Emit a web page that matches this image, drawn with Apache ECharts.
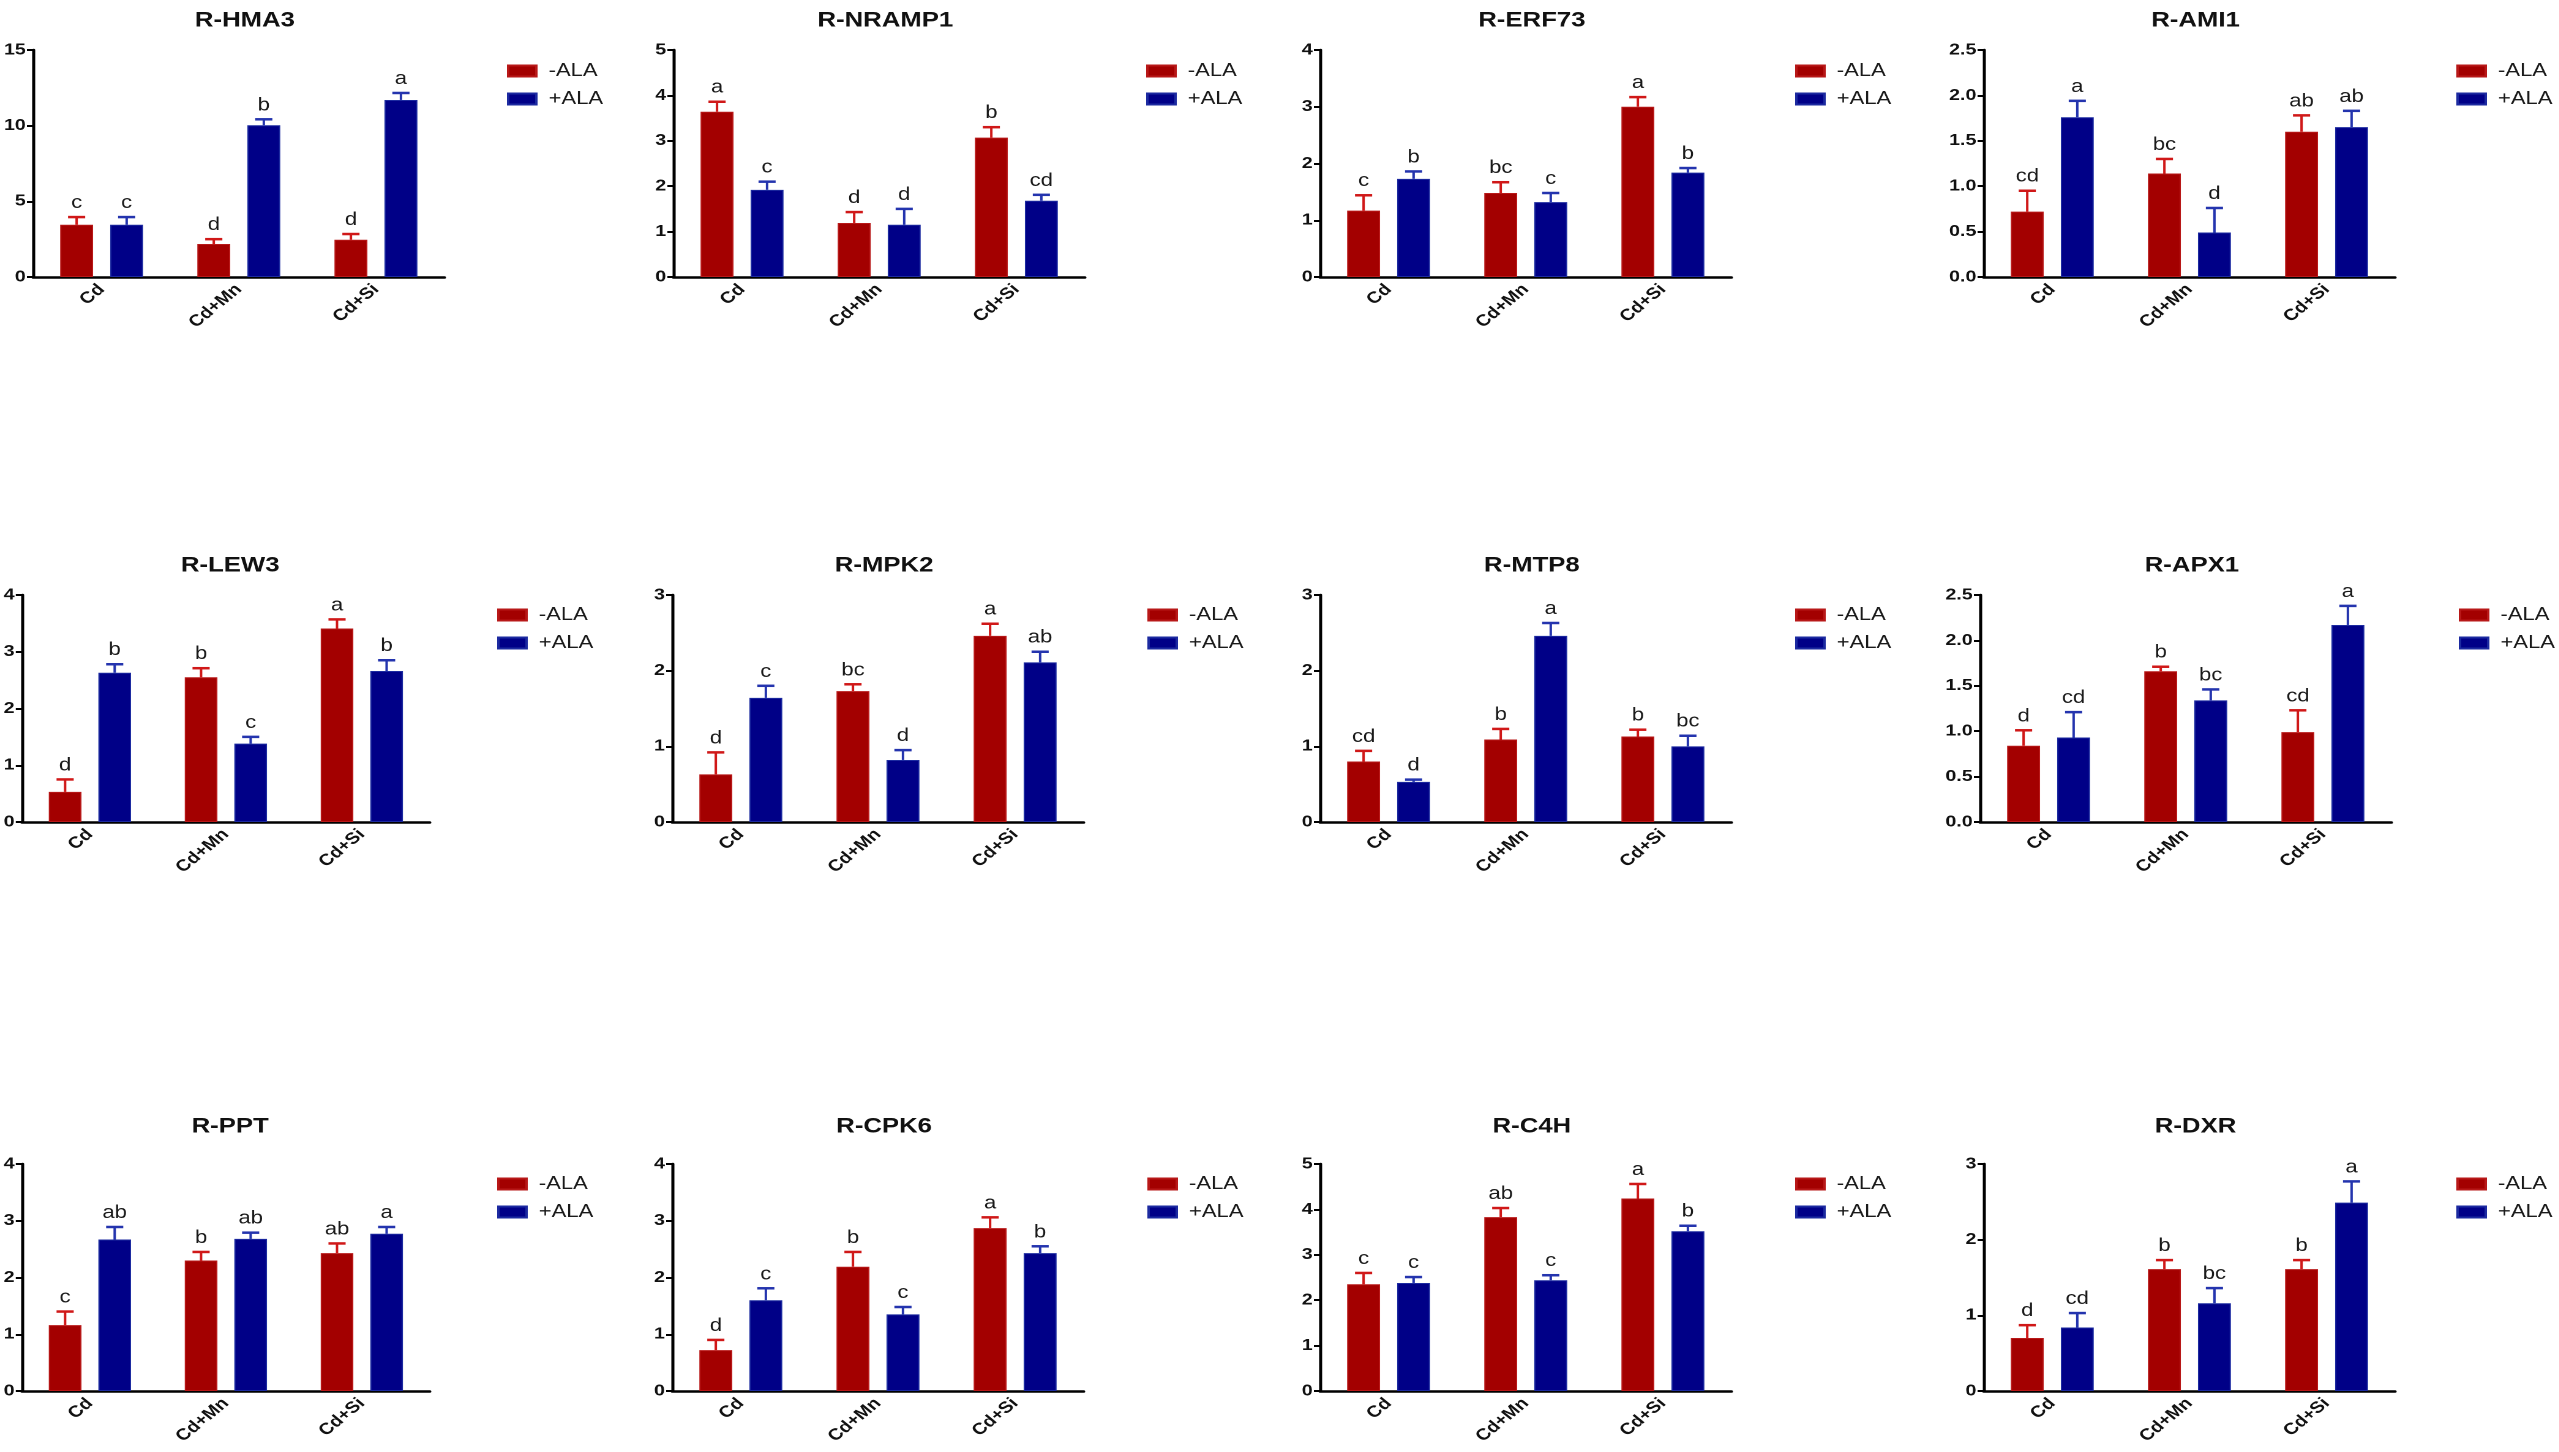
<!DOCTYPE html>
<html>
<head>
<meta charset="utf-8">
<script src="https://cdn.jsdelivr.net/npm/echarts@6/dist/echarts.min.js"></script>
<style>
  html, body { margin: 0; padding: 0; background: #fff; overflow: hidden; }
  /* the source figure is stretched horizontally, so the chart is drawn narrower and widened */
  #myCharts { width: 2090px; height: 1452px; transform: scaleX(1.2245); transform-origin: 0 0; }
</style>
</head>
<body>
<div id="myCharts"></div>
<script>
const categories = ['Cd', 'Cd+Mn', 'Cd+Si'];
const genes = ['R-HMA3', 'R-NRAMP1', 'R-ERF73', 'R-AMI1',
               'R-LEW3', 'R-MPK2', 'R-MTP8', 'R-APX1',
               'R-PPT', 'R-CPK6', 'R-C4H', 'R-DXR'];

// -ALA means and error (upper bar length)
const minusALA = [
    [3.45, 2.18, 2.46],
    [3.64, 1.19, 3.07],
    [1.17, 1.48, 3.00],
    [0.72, 1.14, 1.60],
    [0.53, 2.55, 3.41],
    [0.63, 1.73, 2.46],
    [0.80, 1.09, 1.13],
    [0.84, 1.66, 0.99],
    [1.16, 2.30, 2.43],
    [0.72, 2.19, 2.87],
    [2.35, 3.83, 4.24],
    [0.70, 1.61, 1.61]
];
const minusALAErr = [
    [0.51, 0.32, 0.38],
    [0.22, 0.24, 0.23],
    [0.27, 0.19, 0.17],
    [0.23, 0.16, 0.18],
    [0.22, 0.16, 0.16],
    [0.29, 0.09, 0.16],
    [0.14, 0.14, 0.09],
    [0.17, 0.05, 0.24],
    [0.24, 0.15, 0.17],
    [0.18, 0.26, 0.19],
    [0.25, 0.20, 0.32],
    [0.17, 0.12, 0.12]
];
// +ALA means and error
const plusALA = [
    [3.45, 10.03, 11.70],
    [1.92, 1.15, 1.68],
    [1.73, 1.32, 1.84],
    [1.76, 0.49, 1.65],
    [2.63, 1.38, 2.66],
    [1.64, 0.82, 2.11],
    [0.53, 2.46, 1.00],
    [0.93, 1.34, 2.17],
    [2.67, 2.68, 2.77],
    [1.60, 1.35, 2.43],
    [2.38, 2.44, 3.52],
    [0.84, 1.16, 2.49]
];
const plusALAErr = [
    [0.51, 0.39, 0.46],
    [0.18, 0.35, 0.13],
    [0.13, 0.16, 0.08],
    [0.18, 0.27, 0.18],
    [0.15, 0.12, 0.19],
    [0.16, 0.13, 0.14],
    [0.03, 0.17, 0.14],
    [0.28, 0.12, 0.21],
    [0.22, 0.11, 0.12],
    [0.21, 0.13, 0.12],
    [0.13, 0.11, 0.12],
    [0.19, 0.20, 0.28]
];
const minusLetters = [
    ['c', 'd', 'd'], ['a', 'd', 'b'], ['c', 'bc', 'a'], ['cd', 'bc', 'ab'],
    ['d', 'b', 'a'], ['d', 'bc', 'a'], ['cd', 'b', 'b'], ['d', 'b', 'cd'],
    ['c', 'b', 'ab'], ['d', 'b', 'a'], ['c', 'ab', 'a'], ['d', 'b', 'b']
];
const plusLetters = [
    ['c', 'b', 'a'], ['c', 'd', 'cd'], ['b', 'c', 'b'], ['a', 'd', 'ab'],
    ['b', 'c', 'b'], ['c', 'd', 'ab'], ['d', 'a', 'bc'], ['cd', 'bc', 'a'],
    ['ab', 'ab', 'a'], ['c', 'c', 'b'], ['c', 'c', 'b'], ['cd', 'bc', 'a']
];
const yMax = [15, 5, 4, 2.5, 4, 3, 3, 2.5, 4, 4, 5, 3];
const yStep = [5, 1, 1, 0.5, 1, 1, 1, 0.5, 1, 1, 1, 1];

// layout (in the un-stretched drawing space)
const gridLeft = [27, 550, 1078, 1620, 15, 549, 1078, 1617, 15, 549, 1078, 1620];
const rowTop = [50, 595, 1164];
const titleTop = [5, 550, 1111];
const legendLeft = [409, 931, 1461, 2001, 401, 932, 1461, 2003, 401, 932, 1461, 2001];
const legendTop = [57, 601, 1170];
const GW = 336, GH = 227;

const RED = '#a30000', BLUE = '#000087';
const RED_ERR = '#d01818', BLUE_ERR = '#2434ae';
const FONT = '"Liberation Sans", Arial, sans-serif';

const chart = echarts.init(document.getElementById('myCharts'), null, { devicePixelRatio: 2 });

const grid = [], xAxis = [], yAxis = [], title = [], legend = [], series = [];

function errSeries(i, means, errs, letters, sign, color) {
    return {
        type: 'custom',
        xAxisIndex: i,
        yAxisIndex: i,
        z: 5,
        silent: true,
        data: means.map((m, k) => [k, m, errs[k]]),
        renderItem: (params, api) => {
            const cat = api.value(0), mean = api.value(1), err = api.value(2);
            const band = api.size([1, 0])[0];
            const base = api.coord([cat, mean]);
            const top = api.coord([cat, mean + err]);
            const x = base[0] + sign * band * 0.1824;
            return {
                type: 'group',
                children: [
                    { type: 'line', shape: { x1: x, y1: base[1], x2: x, y2: top[1] },
                      style: { stroke: color, lineWidth: 2 } },
                    { type: 'line', shape: { x1: x - 7, y1: top[1], x2: x + 7, y2: top[1] },
                      style: { stroke: color, lineWidth: 2.5 } },
                    { type: 'text', x: x, y: top[1] - 5,
                      style: { text: letters[params.dataIndex], align: 'center', verticalAlign: 'bottom',
                               fontSize: 18, fontFamily: FONT, fill: '#1a1a1a' } }
                ]
            };
        }
    };
}

genes.forEach((g, i) => {
    const row = Math.floor(i / 4);
    const left = gridLeft[i];
    grid.push({ left: left, top: rowTop[row], width: GW, height: GH });
    title.push({
        text: g,
        left: left + GW / 2,
        top: titleTop[row],
        textAlign: 'center',
        textStyle: { fontSize: 21, fontWeight: 'bold', fontFamily: FONT, color: '#111' }
    });
    legend.push({
        data: ['-ALA', '+ALA'],
        orient: 'vertical',
        left: legendLeft[i],
        top: legendTop[row],
        icon: 'rect',
        itemWidth: 23,
        itemHeight: 11,
        itemGap: 10,
        selectedMode: false,
        textStyle: { fontSize: 18, fontFamily: FONT, color: '#1a1a1a', padding: [0, 0, 0, 5] }
    });
    xAxis.push({
        type: 'category',
        gridIndex: i,
        data: categories,
        axisLine: { lineStyle: { color: '#000', width: 2.5 } },
        axisTick: { alignWithLabel: true, length: 6, lineStyle: { color: '#000', width: 2.5 } },
        axisLabel: { rotate: 45, margin: 10, fontSize: 16, fontWeight: 'bold', fontFamily: FONT, color: '#111' }
    });
    yAxis.push({
        type: 'value',
        gridIndex: i,
        min: 0,
        max: yMax[i],
        interval: yStep[i],
        splitLine: { show: false },
        axisLine: { show: true, lineStyle: { color: '#000', width: 2.5 } },
        axisTick: { show: true, length: 5, lineStyle: { color: '#000', width: 2 } },
        axisLabel: {
            margin: 6, fontSize: 16, fontWeight: 'bold', fontFamily: FONT, color: '#111',
            formatter: v => (yStep[i] < 1 ? v.toFixed(1) : String(v))
        }
    });
    series.push({
        name: '-ALA', type: 'bar', xAxisIndex: i, yAxisIndex: i,
        data: minusALA[i], barWidth: '24%', barGap: '52%',
        itemStyle: { color: RED, borderColor: '#b81818', borderWidth: 1 }
    });
    series.push({
        name: '+ALA', type: 'bar', xAxisIndex: i, yAxisIndex: i,
        data: plusALA[i], barWidth: '24%', barGap: '52%',
        itemStyle: { color: BLUE, borderColor: '#1c2aa0', borderWidth: 1 }
    });
    series.push(errSeries(i, minusALA[i], minusALAErr[i], minusLetters[i], -1, RED_ERR));
    series.push(errSeries(i, plusALA[i], plusALAErr[i], plusLetters[i], 1, BLUE_ERR));
});

chart.setOption({
    backgroundColor: '#fff',
    animation: false,
    title: title,
    legend: legend,
    grid: grid,
    xAxis: xAxis,
    yAxis: yAxis,
    series: series
});
</script>
</body>
</html>
